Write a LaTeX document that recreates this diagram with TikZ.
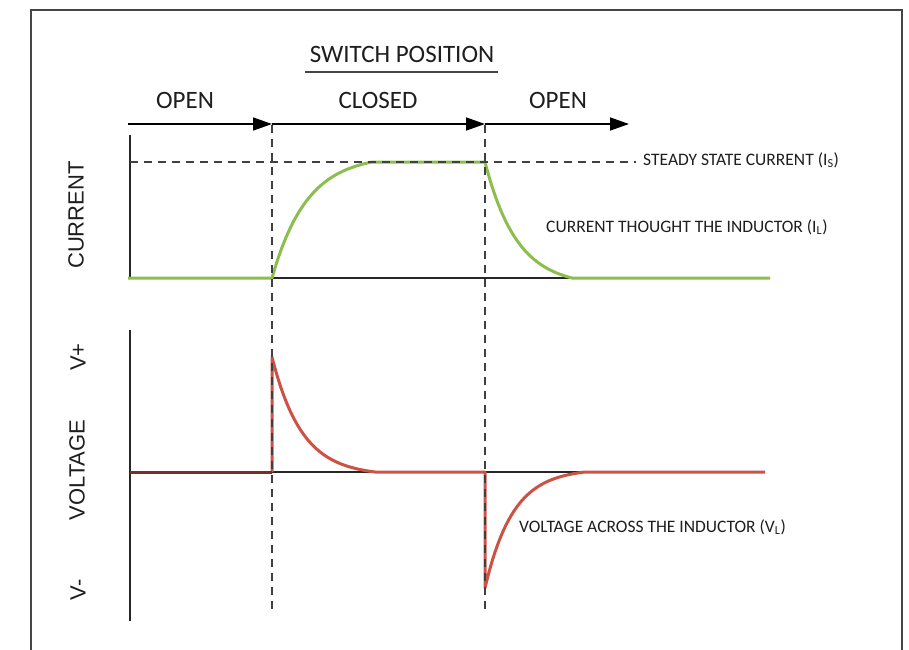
\documentclass[tikz,border=0pt]{standalone}
\usepackage{fontspec}
\setmainfont{Carlito}
\newfontfamily\axisfont{Liberation Sans}
\usetikzlibrary{arrows.meta}
\definecolor{curgreen}{RGB}{140,190,78}
\definecolor{voltred}{RGB}{204,82,70}
\definecolor{darkred}{RGB}{120,45,40}
\definecolor{framegray}{RGB}{70,70,70}
\definecolor{txt}{RGB}{30,30,30}
\begin{document}
\begin{tikzpicture}[x=1pt,y=-1pt,
  frameline/.style={draw=framegray,line width=2pt},
  axisline/.style={draw=black!85,line width=1.6pt},
  guide/.style={draw=black!75,line width=1.5pt,dash pattern=on 8pt off 6pt},
  posarrow/.style={draw=black,line width=1.6pt,-{Triangle[length=19pt,width=13pt]}},
  curve/.style={line width=3pt,line join=round},
  biglabel/.style={font=\fontsize{25}{29}\selectfont,text=txt,inner sep=0pt},
  smalllabel/.style={font=\fontsize{17.5}{20}\selectfont,text=txt,inner sep=0pt,anchor=west},
  sidelabel/.style={font=\axisfont\fontsize{22}{26}\selectfont,text=txt,inner sep=0pt,rotate=90}
]
\useasboundingbox (0,0) rectangle (909,649);
\fill[white] (0,0) rectangle (909,649);
% frame
\draw[frameline] (31,10) rectangle (902,700);

% title
\node[biglabel] (title) at (402,54) {SWITCH POSITION};
\draw[draw=framegray,line width=2.8pt] (305,72) -- (498,72);

% switch positions
\node[biglabel] (open1) at (185,100) {OPEN};
\node[biglabel] (closed) at (378,100) {CLOSED};
\node[biglabel] (open2) at (558,100) {OPEN};

\coordinate (a0) at (128,124);
\coordinate (a1) at (272,124);
\coordinate (a2) at (485,124);
\coordinate (a3) at (629,124);
\draw[posarrow] (a0) -- (a1);
\draw[posarrow] (a1) -- (a2);
\draw[posarrow] (a2) -- (a3);

% current axes
\coordinate (ctop) at (130,135);
\coordinate (corig) at (130,278);
\coordinate (cb1) at (272,278);
\coordinate (cb2) at (572,278);
\draw[axisline] (ctop) -- (corig);
\draw[axisline] (cb1) -- (cb2);

% current curve
\draw[curve,curgreen] (128,278) -- (272,278)
  -- plot[domain=0:100,samples=80] ({272+\x},{278-116*(1-exp(-\x/35))/(1-exp(-100/35))})
  -- (485,162)
  -- plot[domain=0:87,samples=80] ({485+\x},{162+116*(1-exp(-\x/32))/(1-exp(-87/32))})
  -- (770,278);

% voltage axes
\coordinate (vtop) at (130,330);
\coordinate (vbot) at (130,621);
\coordinate (vorig) at (130,472);
\coordinate (vb1) at (272,472);
\coordinate (vb2) at (588,472);
\draw[axisline] (vtop) -- (vbot);
\draw[axisline] (vb1) -- (vb2);

% voltage curve
\draw[curve,voltred] (272,472) -- (272,357)
  -- plot[domain=0:103,samples=80] ({272+\x},{357+115*(1-exp(-\x/30))/(1-exp(-103/30))})
  -- (485,472) -- (485,588)
  -- plot[domain=0:100,samples=80] ({485+\x},{588-116*(1-exp(-\x/28))/(1-exp(-100/28))})
  -- (765,472);
\draw[curve,darkred] (vorig) -- (vb1);

% guides
\coordinate (g1t) at (272,125);
\coordinate (g1b) at (272,610);
\coordinate (g2t) at (485,125);
\coordinate (g2b) at (485,610);
\coordinate (ss0) at (130,162);
\coordinate (ss1) at (636,162);
\draw[guide] (ss0) -- (ss1);
\draw[guide] (g1t) -- (g1b);
\draw[guide] (g2t) -- (g2b);

% labels
\node[smalllabel] (ss) at (643,160) {STEADY STATE CURRENT (I\textsubscript{S})};
\node[smalllabel] (il) at (546,227) {CURRENT THOUGHT THE INDUCTOR (I\textsubscript{L})};
\node[smalllabel] (vl) at (519,527) {VOLTAGE ACROSS THE INDUCTOR (V\textsubscript{L})};

\node[sidelabel] (cur) at (76,215) {CURRENT};
\node[sidelabel] (volt) at (77,470) {VOLTAGE};
\node[sidelabel] (vp) at (78,357) {V+};
\node[sidelabel] (vm) at (78,590) {V-};
\end{tikzpicture}
\end{document}
